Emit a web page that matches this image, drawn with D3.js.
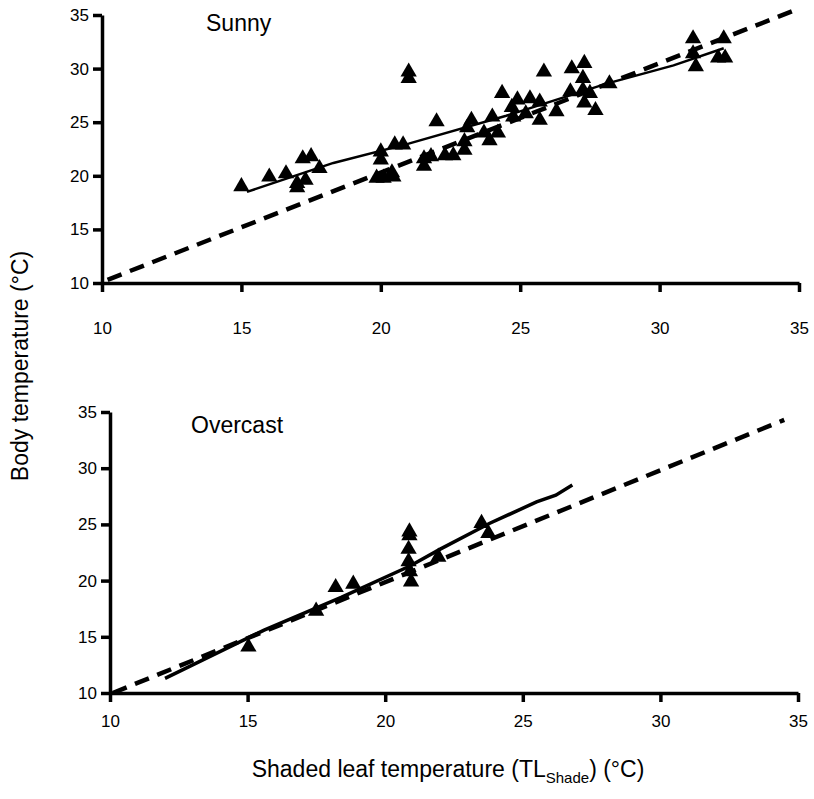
<!DOCTYPE html>
<html>
<head>
<meta charset="utf-8">
<script src="https://cdn.jsdelivr.net/npm/d3@7"></script>
<style>
body { margin: 0; background: #fff; }
text { font-family: "Liberation Sans", Arial, sans-serif; fill: #000; }
</style>
</head>
<body>
<svg class="chart" width="814" height="799"></svg>
<script>
var ticks = [10, 15, 20, 25, 30, 35];

// sunny day: [shaded leaf temp, body temp]
var sunnyPts = [
  [15.0,19.0],[16.0,19.9],[16.6,20.2],[17.2,21.6],[17.5,21.8],[17.8,20.7],
  [17.0,18.9],[17.3,19.6],[17.0,19.3],[20.0,22.25],[20.0,21.5],
  [19.85,19.8],[20.1,19.8],[20.45,19.9],[20.4,20.3],[20.5,22.9],[20.8,22.9],
  [21.0,29.7],[21.0,29.1],[21.55,21.6],[21.55,20.9],[21.8,21.8],[22.0,25.05],
  [22.3,21.9],[22.6,21.9],[23.0,22.4],[23.0,23.2],[23.1,24.5],[23.25,25.2],
  [23.9,23.3],[23.7,24.0],[24.2,24.0],[24.0,25.5],[24.35,27.7],
  [24.7,26.4],[24.9,27.1],[24.75,25.5],[25.2,25.8],[25.35,27.2],
  [25.7,26.9],[25.7,25.2],[25.85,29.7],[26.3,26.0],[26.8,27.85],[26.85,30.0],
  [27.3,30.5],[27.25,29.1],[27.25,28.0],[27.3,26.8],[27.5,27.7],[27.7,26.1],
  [28.2,28.6],[31.2,32.8],[31.2,31.4],[31.3,30.2],[32.3,32.8],[32.1,31.0],[32.35,31.0]
];
var sunnyFit = [[15.2,18.5],[18.3,21.2],[21.0,23.0],[24.5,25.6],[28.1,28.6],[30.5,30.3],[32.3,31.9]];
var sunnyRef = [[10.2,10.3],[35.0,35.6]];

// overcast day
var overcastPts = [
  [15.03,14.1],[17.49,17.3],[18.2,19.4],[18.84,19.7],
  [20.88,24.35],[20.88,24.0],[20.85,22.8],[20.85,21.7],[20.9,20.8],[20.94,19.9],
  [21.93,22.1],[23.5,25.1],[23.75,24.2]
];
var overcastFit = [[12.0,11.3],[15.6,15.6],[18.4,18.5],[20.9,21.3],[22.0,22.8],[23.8,25.1],[25.5,27.0],[26.2,27.6],[26.8,28.5]];
var overcastRef = [[10.1,10.0],[34.5,34.3]];

var svg = d3.select(".chart");

function panel(opt) {
  var x = d3.scaleLinear().domain([10, 35]).range([opt.left, opt.right]);
  var y = d3.scaleLinear().domain([10, 35]).range([opt.bottom, opt.top]);
  var g = svg.append("g");

  var xa = g.append("g")
    .attr("transform", "translate(0," + opt.bottom + ")")
    .call(d3.axisBottom(x).tickValues(ticks).tickSize(9).tickPadding(opt.xpad).tickSizeOuter(0));
  var ya = g.append("g")
    .attr("transform", "translate(" + opt.left + ",0)")
    .call(d3.axisLeft(y).tickValues(ticks).tickSize(9).tickPadding(4).tickSizeOuter(0));
  [xa, ya].forEach(function(a) {
    a.select(".domain").attr("stroke", "#000").attr("stroke-width", 3.5);
    a.selectAll(".tick line").attr("stroke", "#000").attr("stroke-width", 3.5);
    a.selectAll(".tick text").attr("font-size", 17).attr("font-family", "Liberation Sans, Arial, sans-serif");
  });

  var line = d3.line().x(function(d) { return x(d[0]); }).y(function(d) { return y(d[1]); });

  g.append("path").datum(opt.ref)
    .attr("d", line).attr("fill", "none").attr("stroke", "#000")
    .attr("stroke-width", 4.5).attr("stroke-dasharray", "15,9");

  g.append("path").datum(opt.fit)
    .attr("d", line).attr("fill", "none").attr("stroke", "#000")
    .attr("stroke-width", opt.fitw);

  g.selectAll(".pt").data(opt.pts).enter().append("path")
    .attr("class", "pt")
    .attr("d", d3.symbol().type(d3.symbolTriangle).size(115))
    .attr("transform", function(d) { return "translate(" + x(d[0]) + "," + y(d[1]) + ")"; })
    .attr("fill", "#000");

  g.append("text").attr("x", opt.lx).attr("y", opt.ly)
    .attr("font-size", 23).text(opt.label);
}

panel({left: 102, right: 799, top: 15, bottom: 283, xpad: 30,
  pts: sunnyPts, fit: sunnyFit, ref: sunnyRef, fitw: 2.5,
  label: "Sunny", lx: 206, ly: 31});
panel({left: 110, right: 798, top: 412, bottom: 693, xpad: 13,
  pts: overcastPts, fit: overcastFit, ref: overcastRef, fitw: 3.5,
  label: "Overcast", lx: 191, ly: 433});

// axis titles
svg.append("text")
  .attr("transform", "translate(28,366) rotate(-90)")
  .attr("text-anchor", "middle").attr("font-size", 23)
  .text("Body temperature (°C)");

var xt = svg.append("text").attr("x", 448).attr("y", 777)
  .attr("text-anchor", "middle").attr("font-size", 23);
xt.append("tspan").text("Shaded leaf temperature (TL");
xt.append("tspan").attr("font-size", 15).attr("dy", 6).text("Shade");
xt.append("tspan").attr("dy", -6).text(") (°C)");
</script>
</body>
</html>
